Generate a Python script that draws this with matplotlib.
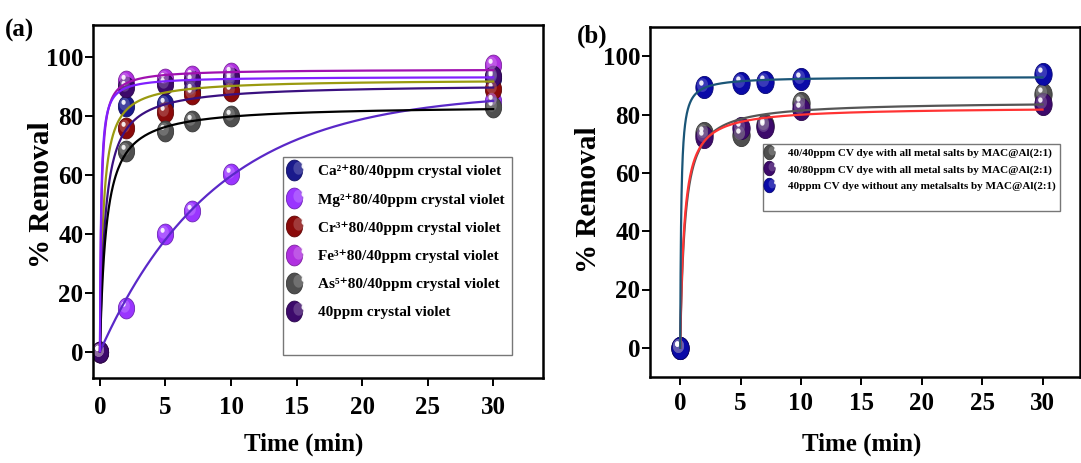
import numpy as np
import matplotlib
matplotlib.use('Agg')
import matplotlib.pyplot as plt
import matplotlib.colors as mcolors
from matplotlib.path import Path
from matplotlib.legend_handler import HandlerTuple
from matplotlib.lines import Line2D

plt.rcParams['font.family'] = ['Liberation Serif', 'DejaVu Serif']
plt.rcParams['font.weight'] = 'bold'

# ---------------- data: panel (a) ----------------
time_a = [0, 2, 5, 7, 10, 30]
labels_a = ['Ca²⁺80/40ppm crystal violet',
            'Mg²⁺80/40ppm crystal violet',
            'Cr³⁺80/40ppm crystal violet',
            'Fe³⁺80/40ppm crystal violet',
            'As⁵⁺80/40ppm crystal violet',
            '40ppm crystal violet']
ca_a = [0, 83.5, 84, 89, 92, 93]
mg_a = [0, 14.8, 39.8, 47.7, 60.2, 85]
cr_a = [0, 76, 81.3, 87.5, 88.6, 89.2]
fe_a = [0, 92, 92.6, 93.7, 94.6, 97.5]
as_a = [0, 68, 75, 78.4, 80, 83]
cv_a = [0, 90, 91, 92, 93, 93.7]
series_a = [ca_a, mg_a, cr_a, fe_a, as_a, cv_a]
models_a = ['lang', 'exp', 'lang', 'lang', 'lang', 'lang']

# ---------------- data: panel (b) ----------------
time_b = [0, 2, 5, 7, 10, 30]
labels_b = ['40/40ppm CV dye with all metal salts by MAC@Al(2:1)',
            '40/80ppm CV dye with all metal salts by MAC@Al(2:1)',
            '40ppm CV dye without any metalsalts by MAC@Al(2:1)']
mix4040_b = [0, 73.7, 73, 76.5, 83.9, 87]
mix4080_b = [0, 72.3, 75.5, 75.7, 81.8, 83.5]
nometal_b = [0, 89.6, 90.7, 91, 92.2, 93.8]
series_b = [mix4040_b, mix4080_b, nometal_b]

# ---------------- styles ----------------
pt_colors_a = ['#1a1a8c', '#9a35ff', '#8b0a0a', '#b030e0', '#4f4f4f', '#3d0a6b']
ln_colors_a = ['#9a9a10', '#5a28c8', '#3a1080', '#a010b0', '#000000', '#8020ff']
pt_colors_b = ['#4f4f4f', '#3d0a6b', '#0a0aa8']
ln_colors_b = ['#555555', '#ff3333', '#1a5577']


def ellipse_path(cx, cy, rx, ry, n=64):
    th = np.linspace(0, 2 * np.pi, n)
    verts = np.column_stack([cx + rx * np.cos(th), cy + ry * np.sin(th)])
    verts = np.vstack([[[1.0, 1.0]], verts])
    codes = [Path.MOVETO, Path.MOVETO] + [Path.LINETO] * (n - 2) + [Path.CLOSEPOLY]
    return Path(verts, codes)


BASE = ellipse_path(0, 0, 0.78, 1.0)
MID = ellipse_path(-0.18, 0.22, 0.5, 0.62)
HI = ellipse_path(-0.28, 0.4, 0.2, 0.24)


def lighten(c, f):
    r = np.array(mcolors.to_rgb(c))
    return tuple(r + (1 - r) * f)


def darken(c, f):
    r = np.array(mcolors.to_rgb(c))
    return tuple(r * (1 - f))


def sphere(ax, t, y, c, ms):
    h1, = ax.plot(t, y, ls='none', marker=BASE, ms=ms, mfc=c, mec=darken(c, 0.3),
                  mew=0.6, zorder=2)
    h2, = ax.plot(t, y, ls='none', marker=MID, ms=ms, mfc=lighten(c, 0.35), mec='none',
                  alpha=0.55, zorder=2.1)
    h3, = ax.plot(t, y, ls='none', marker=HI, ms=ms, mfc='white', mec='none',
                  alpha=0.9, zorder=2.2)
    return (h1, h2, h3)


def fit_curve(t, y, model):
    t = np.asarray(t, float)
    y = np.asarray(y, float)
    best = None
    for b in np.logspace(-3, 1.7, 600):
        g = t / (b + t) if model == 'lang' else 1 - np.exp(-t / b)
        a = (g @ y) / (g @ g)
        err = ((a * g - y) ** 2).sum()
        if best is None or err < best[0]:
            best = (err, a, b)
    _, a, b = best
    tt = np.concatenate([np.linspace(0, 1, 400), np.linspace(1, 30, 300)])
    g = tt / (b + tt) if model == 'lang' else 1 - np.exp(-tt / b)
    return tt, a * g


def style_axes(ax, xlim, ylim, tick_pad_x):
    ax.set_xlim(*xlim)
    ax.set_ylim(*ylim)
    ax.set_xticks([0, 5, 10, 15, 20, 25, 30])
    ax.set_yticks([0, 20, 40, 60, 80, 100])
    for s in ax.spines.values():
        s.set_linewidth(1.8)
    ax.tick_params(axis='both', direction='out', length=6, width=1.4, labelsize=18)
    ax.tick_params(axis='y', pad=1)
    ax.tick_params(axis='x', pad=tick_pad_x)
    for lab in ax.get_xticklabels() + ax.get_yticklabels():
        lab.set_fontweight('bold')


fig = plt.figure(figsize=(10.81, 4.63), dpi=100)

# ---------------- panel (a) ----------------
axa = fig.add_axes([93 / 1081, 1 - 378 / 463, 450 / 1081, 353 / 463])
handles_a = []
for y, pc in zip(series_a, pt_colors_a):
    handles_a.append(sphere(axa, time_a, y, pc, 15))
for y, lc, m in zip(series_a, ln_colors_a, models_a):
    tt, yy = fit_curve(time_a, y, m)
    axa.plot(tt, yy, color=lc, lw=1.6, zorder=3)
style_axes(axa, (-0.53, 33.8), (-9, 111), 7)
axa.set_ylabel('% Removal', fontsize=21, fontweight='bold')
axa.set_xlabel('Time (min)', fontsize=18, fontweight='bold')
axa.yaxis.set_label_coords(-0.084, 0.52)
axa.xaxis.set_label_coords(0.469, -0.155)
blank = Line2D([], [], ls='none')
leg_a = axa.legend(handles_a + [blank], labels_a + [' '],
                   handler_map={tuple: HandlerTuple(ndivide=None, pad=0)},
                   loc='upper left', bbox_to_anchor=(0.422, 0.626), fontsize=11,
                   frameon=True, fancybox=False, edgecolor='#555555', borderpad=0.5,
                   labelspacing=0.95, handlelength=1.2, handletextpad=0.6,
                   borderaxespad=0)
leg_a.get_frame().set_linewidth(1.0)
fig.text(5 / 1081, 1 - 30 / 463, '(a)', fontsize=18, fontweight='bold', va='center')

# ---------------- panel (b) ----------------
axb = fig.add_axes([650 / 1081, 1 - 377 / 463, 430 / 1081, 350 / 463])
handles_b = []
for y, pc in zip(series_b, pt_colors_b):
    handles_b.append(sphere(axb, time_b, y, pc, 16))
for y, lc in zip(series_b, ln_colors_b):
    tt, yy = fit_curve(time_b, y, 'lang')
    axb.plot(tt, yy, color=lc, lw=1.6, zorder=3)
style_axes(axb, (-2.5, 33.1), (-10, 110), 5)
axb.set_ylabel('% Removal', fontsize=21, fontweight='bold')
axb.set_xlabel('Time (min)', fontsize=18, fontweight='bold')
axb.yaxis.set_label_coords(-0.112, 0.506)
axb.xaxis.set_label_coords(0.492, -0.16)
leg_b = axb.legend(handles_b + [blank], labels_b + [' '],
                   handler_map={tuple: HandlerTuple(ndivide=None, pad=0)},
                   loc='upper left', bbox_to_anchor=(0.263, 0.666), fontsize=8,
                   markerscale=0.65, frameon=True, fancybox=False, edgecolor='#555555',
                   borderpad=0.4, labelspacing=0.55, handlelength=1.0,
                   handletextpad=0.8, borderaxespad=0)
leg_b.get_frame().set_linewidth(1.0)
fig.text(577 / 1081, 1 - 36 / 463, '(b)', fontsize=18, fontweight='bold', va='center')

fig.savefig('out.png', dpi=100)
